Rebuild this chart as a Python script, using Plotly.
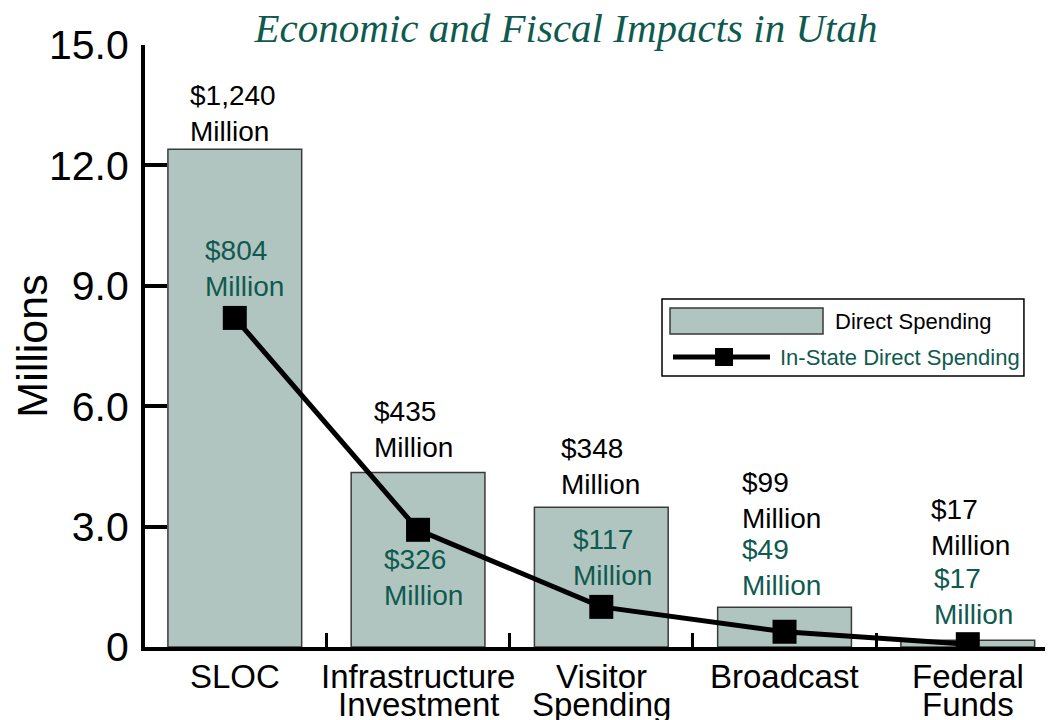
import plotly.graph_objects as go

# ---------------- data ----------------
categories = ["SLOC", "Infrastructure Investment", "Visitor Spending", "Broadcast", "Federal Funds"]
category_lines = [["SLOC"], ["Infrastructure", "Investment"], ["Visitor", "Spending"],
                  ["Broadcast"], ["Federal", "Funds"]]
direct_spending = [12.40, 4.35, 3.48, 0.99, 0.17]          # bar heights (as drawn)
in_state_spending = [8.2, 2.92, 1.0, 0.38, 0.07]           # line points (as drawn)
direct_labels = ["$1,240", "$435", "$348", "$99", "$17"]
in_state_labels = ["$804", "$326", "$117", "$49", "$17"]
y_tick_vals = [0, 3, 6, 9, 12, 15]
y_tick_text = ["0", "3.0", "6.0", "9.0", "12.0", "15.0"]

# ---------------- styles / layout helpers ----------------
BAR_FILL = "#b1c5c0"
BAR_EDGE = "#3a3a3a"
GREEN = "#0f5a4f"
FONT = "Liberation Sans, Arial, sans-serif"

# label placement: (x shift in px from category centre, y centre in data units)
direct_label_pos = [(-47, 13.29), (-46, 5.41), (-42, 4.49), (-45, 3.64), (-39, 2.99)]
in_state_label_pos = [(-32, 9.44), (-36, 1.74), (-30, 2.22), (-45, 1.99), (-36, 1.25)]

fig = go.Figure()
fig.add_trace(go.Bar(
    x=categories, y=direct_spending, name="Direct Spending",
    marker=dict(color=BAR_FILL, line=dict(color=BAR_EDGE, width=1.5)),
    width=0.73, showlegend=False, hoverinfo="x+y",
))
fig.add_trace(go.Scatter(
    x=categories, y=in_state_spending, name="In-State Direct Spending",
    mode="lines+markers",
    line=dict(color="black", width=5),
    marker=dict(symbol="square", size=24, color="black"),
    showlegend=False,
))

annotations = []
for cat, lab, (dx, yc) in zip(categories, direct_labels, direct_label_pos):
    annotations.append(dict(x=cat, y=yc, xref="x", yref="y", xshift=dx,
                            xanchor="left", yanchor="middle", align="left",
                            text=f"{lab}<br>Million", showarrow=False,
                            font=dict(family=FONT, size=28, color="black")))
for cat, lab, (dx, yc) in zip(categories, in_state_labels, in_state_label_pos):
    annotations.append(dict(x=cat, y=yc, xref="x", yref="y", xshift=dx,
                            xanchor="left", yanchor="middle", align="left",
                            text=f"{lab}<br>Million", showarrow=False,
                            font=dict(family=FONT, size=28, color=GREEN)))
# category labels (tight line spacing)
for cat, lines in zip(categories, category_lines):
    for i, ln in enumerate(lines):
        annotations.append(dict(x=cat, y=0, xref="x", yref="y", yshift=-29 - 28 * i,
                                xanchor="center", yanchor="middle",
                                text=ln, showarrow=False,
                                font=dict(family=FONT, size=33, color="black")))

# custom legend
annotations.append(dict(x=0.7577, y=0.5415, xref="paper", yref="paper", xanchor="left",
                        yanchor="middle", text="Direct Spending", showarrow=False,
                        font=dict(family=FONT, size=22, color="black")))
annotations.append(dict(x=0.697, y=0.4817, xref="paper", yref="paper", xanchor="left",
                        yanchor="middle", text="In-State Direct Spending", showarrow=False,
                        font=dict(family=FONT, size=22, color=GREEN)))
shapes = [
    dict(type="rect", xref="paper", yref="paper", x0=0.5694, x1=0.968, y0=0.450, y1=0.578,
         line=dict(color="black", width=1.5), fillcolor="white", layer="below"),
    dict(type="rect", xref="paper", yref="paper", x0=0.5782, x1=0.7467, y0=0.520, y1=0.563,
         line=dict(color=BAR_EDGE, width=1.5), fillcolor=BAR_FILL),
    dict(type="line", xref="paper", yref="paper", x0=0.5815, x1=0.6883, y0=0.4817, y1=0.4817,
         line=dict(color="black", width=5)),
    dict(type="rect", xref="paper", yref="paper", x0=0.6377 - 0.0099, x1=0.6377 + 0.0099,
         y0=0.4817 - 0.01495, y1=0.4817 + 0.01495, line=dict(width=0), fillcolor="black"),
]

# the page body adds an 8px margin, so the figure is 8px smaller than the window
fig.update_layout(
    width=1045, height=712,
    margin=dict(l=137, r=0, t=37, b=73),
    paper_bgcolor="white", plot_bgcolor="white",
    font=dict(family=FONT, color="black"),
    title=dict(text="<i>Economic and Fiscal Impacts in Utah</i>",
               x=558 / 1045, xref="container", xanchor="center",
               y=1 - 20 / 712, yref="container", yanchor="middle",
               font=dict(family="Liberation Serif, Times New Roman, serif", size=41, color=GREEN)),
    annotations=annotations,
    shapes=shapes,
    bargap=0.27,
)
fig.update_xaxes(
    type="category", categoryorder="array", categoryarray=categories,
    range=[-0.49, 4.465], showticklabels=False,
    showline=True, linecolor="black", linewidth=4,
    ticks="inside", tickson="boundaries", ticklen=14, tickwidth=3, tickcolor="black",
    showgrid=False, zeroline=False,
)
fig.update_yaxes(
    range=[0, 15], tickvals=y_tick_vals, ticktext=y_tick_text,
    showline=True, linecolor="black", linewidth=4,
    ticks="inside", ticklen=22, tickwidth=4, tickcolor="black",
    ticklabelstandoff=4,
    tickfont=dict(family=FONT, size=41, color="black"),
    title=dict(text="Millions", font=dict(family=FONT, size=43, color="black"), standoff=4),
    showgrid=False, zeroline=False,
)

fig.write_html("out.html")
